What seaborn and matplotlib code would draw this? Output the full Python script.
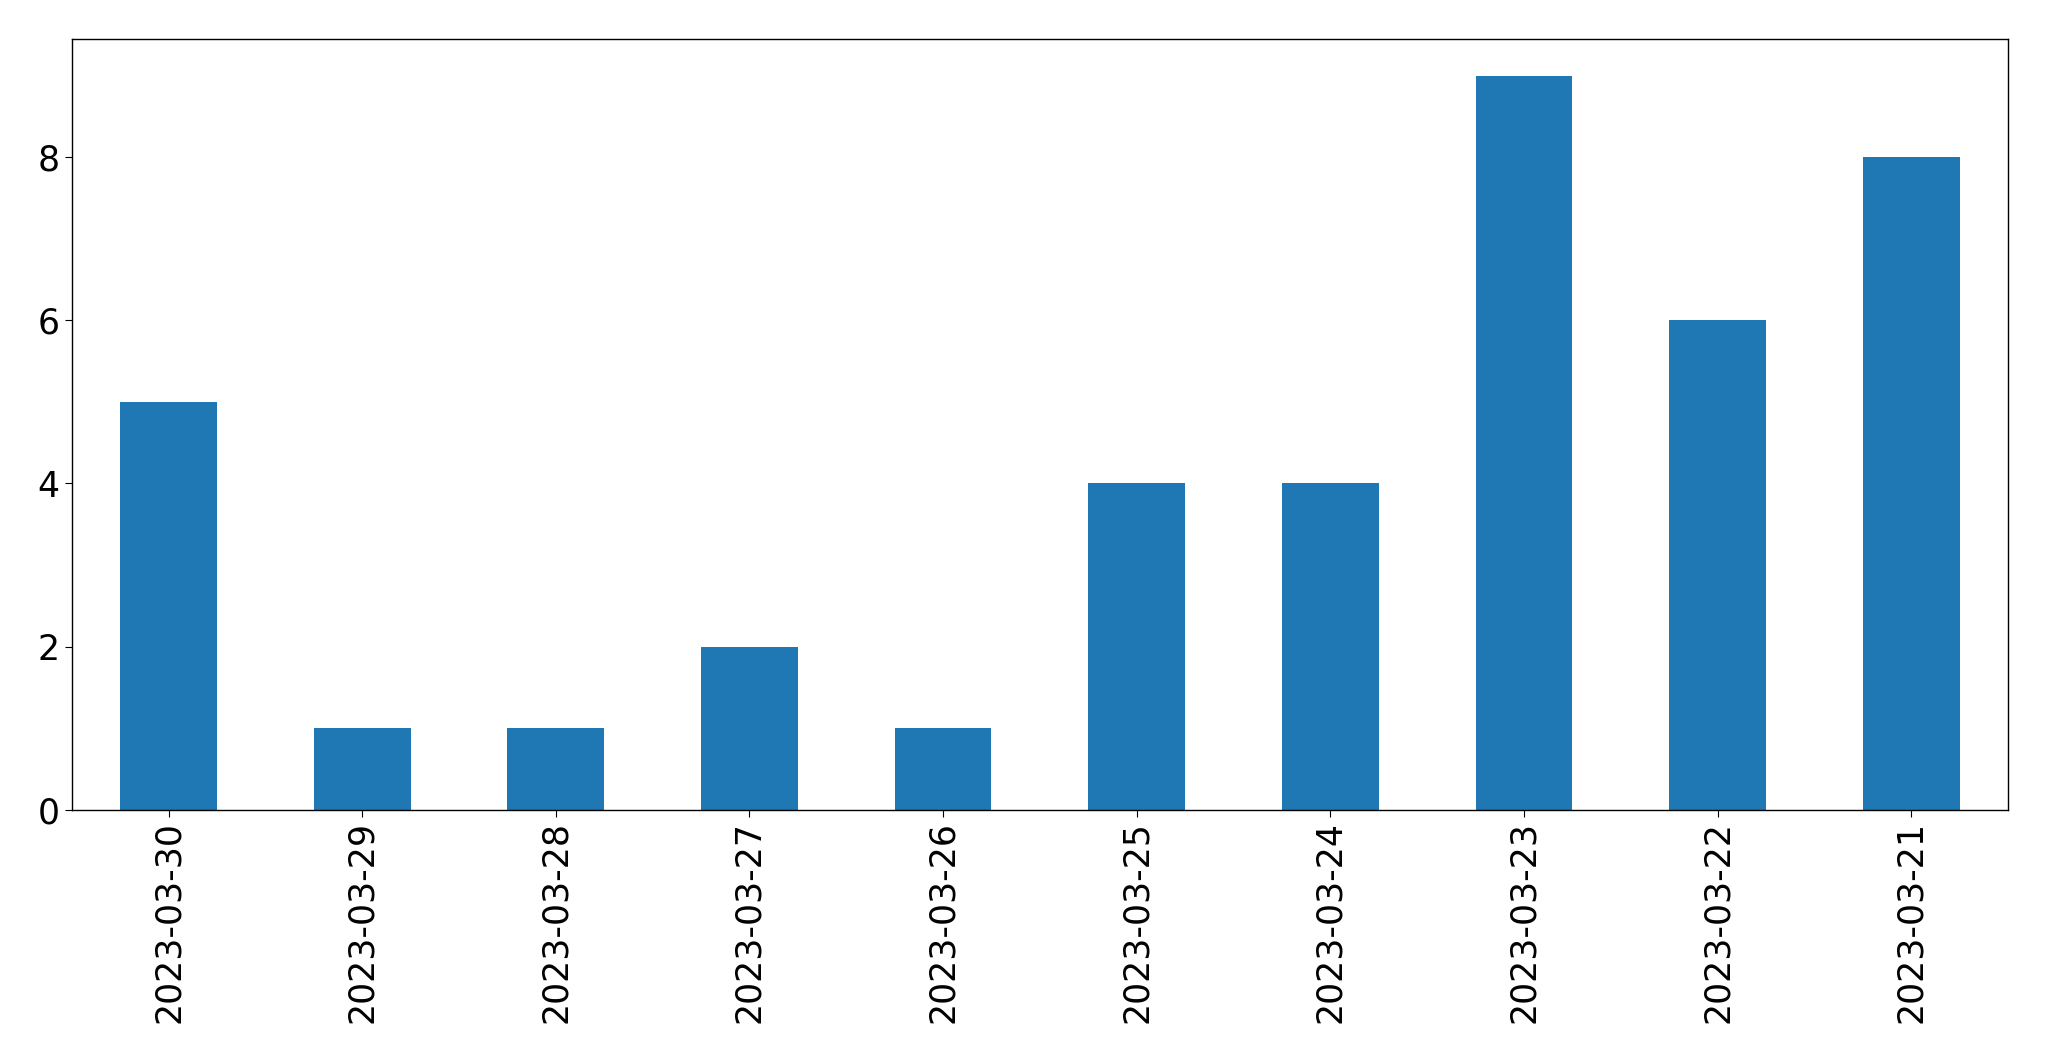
import matplotlib
matplotlib.use('Agg')
import matplotlib.pyplot as plt
import seaborn as sns
import pandas as pd

dates = ["2023-03-30", "2023-03-29", "2023-03-28", "2023-03-27", "2023-03-26",
         "2023-03-25", "2023-03-24", "2023-03-23", "2023-03-22", "2023-03-21"]
counts = [5, 1, 1, 2, 1, 4, 4, 9, 6, 8]

df = pd.DataFrame({"date": dates, "count": counts})

sns.set_style("ticks")
plt.rcParams['font.family'] = ['DejaVu Sans']

fig, ax = plt.subplots(figsize=(20.49, 10.61), dpi=100)
sns.barplot(data=df, x="date", y="count", order=dates, color="#1f77b4",
            saturation=1, width=0.5, linewidth=0, ax=ax)

ax.set_xlim(-0.5, len(dates) - 0.5)
ax.set_xlabel("")
ax.set_ylabel("")
ax.tick_params(axis='both', labelsize=25, length=5, colors='black')
ax.tick_params(axis='x', labelrotation=90)
for s in ax.spines.values():
    s.set_visible(True)
    s.set_color('black')
    s.set_linewidth(1)

plt.subplots_adjust(left=0.035, right=0.98, top=0.963, bottom=0.237)
plt.savefig("out.png", dpi=100)
plt.close(fig)
